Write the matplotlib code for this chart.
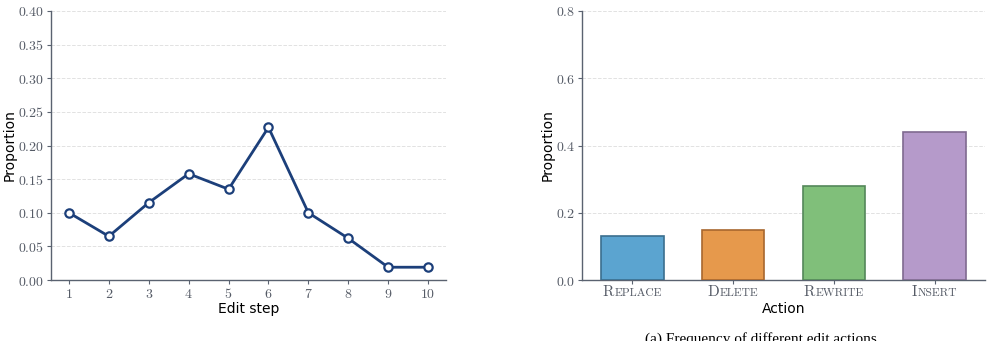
import matplotlib
matplotlib.use('Agg')
import matplotlib.pyplot as plt
from matplotlib.ticker import FuncFormatter
from matplotlib.offsetbox import TextArea, HPacker, AnnotationBbox

plt.rcParams['mathtext.fontset'] = 'cm'
plt.rcParams['font.family'] = 'DejaVu Sans'

steps = [1, 2, 3, 4, 5, 6, 7, 8, 9, 10]
step_props = [0.100, 0.065, 0.115, 0.158, 0.135, 0.227, 0.100, 0.062, 0.019, 0.019]

actions = ['Replace', 'Delete', 'Rewrite', 'Insert']
action_props = [0.13, 0.15, 0.28, 0.44]
bar_colors = ['#5ba4d0', '#e6994c', '#80bf7a', '#b59aca']
edge_colors = ['#3b6f8f', '#a8672f', '#54875a', '#7f6a90']

spine_col = '#5a6270'
tick_col = '#555b66'

fig = plt.figure(figsize=(9.91, 3.41), dpi=100)
ax1 = fig.add_axes([51/991, 1-280/341, 395/991, 269/341])
ax2 = fig.add_axes([582/991, 1-280/341, 403/991, 269/341])

def style(ax):
    for s in ['top', 'right']:
        ax.spines[s].set_visible(False)
    for s in ['left', 'bottom']:
        ax.spines[s].set_color(spine_col)
        ax.spines[s].set_linewidth(1.0)
    ax.tick_params(colors=spine_col, labelcolor=tick_col, labelsize=10, length=3, pad=2)
    ax.yaxis.grid(True, linestyle='--', color='#e2e2e2', linewidth=0.7)
    ax.set_axisbelow(True)

# left: proportion per edit step
style(ax1)
ax1.plot(steps, step_props, color='#1c3f7a', linewidth=2, marker='o',
         markersize=6, markerfacecolor='white', markeredgecolor='#1c3f7a',
         markeredgewidth=1.6, zorder=3)
ax1.set_ylim(0, 0.4)
ax1.set_yticks([0, 0.05, 0.1, 0.15, 0.2, 0.25, 0.3, 0.35, 0.4])
ax1.yaxis.set_major_formatter(FuncFormatter(lambda v, p: '$%.2f$' % v))
ax1.set_xticks(steps)
ax1.set_xticklabels(['$%d$' % s for s in steps])
ax1.set_xlim(0.55, 10.45)
ax1.set_xlabel('Edit step', fontsize=10)
ax1.xaxis.set_label_coords(0.5, -0.08)
ax1.set_ylabel('Proportion', fontsize=10)
ax1.yaxis.set_label_coords(-0.086, 0.5)

# right: action frequencies
style(ax2)
ax2.bar(range(len(actions)), action_props, width=0.62, color=bar_colors,
        edgecolor=edge_colors, linewidth=1.2, zorder=3)
ax2.set_ylim(0, 0.8)
ax2.set_yticks([0, 0.2, 0.4, 0.6, 0.8])
ax2.yaxis.set_major_formatter(FuncFormatter(lambda v, p: '$%.1f$' % v))
ax2.set_xlim(-0.5, 3.5)
ax2.set_xticks(range(len(actions)))
ax2.set_xticklabels(['' for a in actions])

# small caps tick labels: big first letter, smaller capitals after it
for i, a in enumerate(actions):
    big = TextArea(a[0], textprops=dict(size=11, color=tick_col, family='cmr10'))
    small = TextArea(a[1:].upper(), textprops=dict(size=8.3, color=tick_col, family='cmr10'))
    pack = HPacker(children=[big, small], align='baseline', pad=0, sep=0.5)
    ab = AnnotationBbox(pack, (i, 0), xycoords=('data', 'axes fraction'),
                        xybox=(0, -4), boxcoords='offset points',
                        box_alignment=(0.5, 1), frameon=False, pad=0)
    ax2.add_artist(ab)

ax2.set_xlabel('Action', fontsize=10)
ax2.xaxis.set_label_coords(0.5, -0.08)
ax2.set_ylabel('Proportion', fontsize=10)
ax2.yaxis.set_label_coords(-0.067, 0.5)

fig.text(763/991, 1-343/341, '(a) Frequency of different edit actions.',
         ha='center', va='baseline', fontsize=11, family='Liberation Serif')

fig.savefig('out.png', dpi=100)
